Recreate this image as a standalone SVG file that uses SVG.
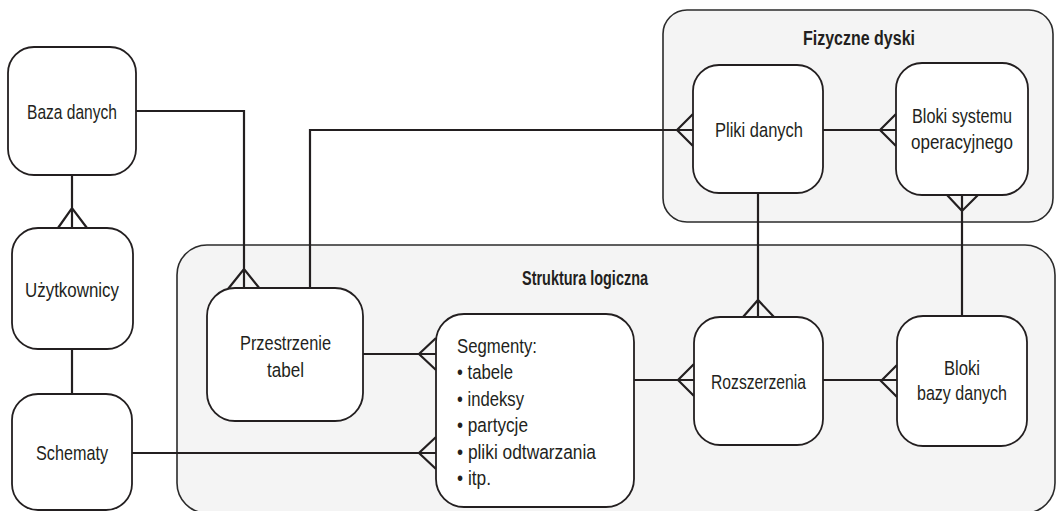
<svg xmlns="http://www.w3.org/2000/svg" width="1057" height="511" viewBox="0 0 1057 511">
<style>
.bg{fill:#ffffff}
.cont{fill:#f4f4f4;stroke:#2b2b2b;stroke-width:1.6}
.node{fill:#ffffff;stroke:#231f20;stroke-width:1.8}
.ln{fill:none;stroke:#231f20;stroke-width:2.2}
.t{font-family:"Liberation Sans",Arial,sans-serif;font-size:20.5px;fill:#231f20}
.tc{text-anchor:middle}
.b{font-weight:bold;font-size:19.5px}
</style>
<rect class="bg" x="0" y="0" width="1057" height="511"/>
<g id="fizyczne-dyski">
<rect class="cont" x="663" y="10" width="390" height="212" rx="24"/>
<text class="t b tc" x="859" y="45" textLength="112" lengthAdjust="spacingAndGlyphs">Fizyczne dyski</text>
</g>
<g id="struktura-logiczna">
<rect class="cont" x="177" y="245" width="878" height="268" rx="30"/>
<text class="t b tc" x="585" y="285" textLength="126" lengthAdjust="spacingAndGlyphs">Struktura logiczna</text>
</g>
<g id="connectors">
<path class="ln" d="M72,175 V228 M58,228 L72,208 L87,228"/>
<path class="ln" d="M72,349 V394"/>
<path class="ln" d="M136,111 H244 V289 M228,289 L244,269 L260,289"/>
<path class="ln" d="M310,289 V130 H693 M693,114 L677,130 L693,146"/>
<path class="ln" d="M823,130 H896 M896,114 L880,130 L896,146"/>
<path class="ln" d="M363,354 H436 M436,338 L419,354 L436,370"/>
<path class="ln" d="M132,453 H436 M436,437 L419,453 L436,469"/>
<path class="ln" d="M634,380 H694 M694,364 L678,380 L694,396"/>
<path class="ln" d="M823,380 H897 M897,365 L881,381 L897,397"/>
<path class="ln" d="M758,193 V317 M743,317 L758,300 L774,317"/>
<path class="ln" d="M962,195 V316 M947,195 L962,211 L978,195"/>
</g>
<g id="baza-danych">
<rect class="node" x="8" y="47" width="128" height="128" rx="26"/>
<text class="t tc" x="72" y="119" textLength="90" lengthAdjust="spacingAndGlyphs">Baza danych</text>
</g>
<g id="uzytkownicy">
<rect class="node" x="12" y="228" width="121" height="121" rx="26"/>
<text class="t tc" x="72" y="297" textLength="94" lengthAdjust="spacingAndGlyphs">Użytkownicy</text>
</g>
<g id="schematy">
<rect class="node" x="12" y="394" width="120" height="116" rx="26"/>
<text class="t tc" x="72" y="460" textLength="72" lengthAdjust="spacingAndGlyphs">Schematy</text>
</g>
<g id="przestrzenie-tabel">
<rect class="node" x="207" y="288" width="156" height="133" rx="28"/>
<text class="t tc" x="285.5" y="350" textLength="91" lengthAdjust="spacingAndGlyphs">Przestrzenie</text>
<text class="t tc" x="285.5" y="377" textLength="37" lengthAdjust="spacingAndGlyphs">tabel</text>
</g>
<g id="segmenty">
<rect class="node" x="436" y="314" width="198" height="193" rx="28"/>
<text class="t" x="457" y="353" textLength="80" lengthAdjust="spacingAndGlyphs">Segmenty:</text>
<text class="t" x="457" y="379" textLength="56" lengthAdjust="spacingAndGlyphs">• tabele</text>
<text class="t" x="457" y="406" textLength="67" lengthAdjust="spacingAndGlyphs">• indeksy</text>
<text class="t" x="457" y="432" textLength="71" lengthAdjust="spacingAndGlyphs">• partycje</text>
<text class="t" x="457" y="459" textLength="139" lengthAdjust="spacingAndGlyphs">• pliki odtwarzania</text>
<text class="t" x="457" y="485" textLength="34" lengthAdjust="spacingAndGlyphs">• itp.</text>
</g>
<g id="rozszerzenia">
<rect class="node" x="694" y="317" width="129" height="128" rx="26"/>
<text class="t tc" x="758.5" y="389" textLength="95" lengthAdjust="spacingAndGlyphs">Rozszerzenia</text>
</g>
<g id="bloki-bazy-danych">
<rect class="node" x="897" y="316" width="130" height="130" rx="26"/>
<text class="t tc" x="962" y="375" textLength="36" lengthAdjust="spacingAndGlyphs">Bloki</text>
<text class="t tc" x="962" y="400" textLength="90" lengthAdjust="spacingAndGlyphs">bazy danych</text>
</g>
<g id="pliki-danych">
<rect class="node" x="693" y="65" width="130" height="128" rx="26"/>
<text class="t tc" x="759" y="137" textLength="88" lengthAdjust="spacingAndGlyphs">Pliki danych</text>
</g>
<g id="bloki-systemu-operacyjnego">
<rect class="node" x="896" y="63" width="132" height="132" rx="26"/>
<text class="t tc" x="962" y="123" textLength="100" lengthAdjust="spacingAndGlyphs">Bloki systemu</text>
<text class="t tc" x="962" y="149" textLength="102" lengthAdjust="spacingAndGlyphs">operacyjnego</text>
</g>
</svg>
